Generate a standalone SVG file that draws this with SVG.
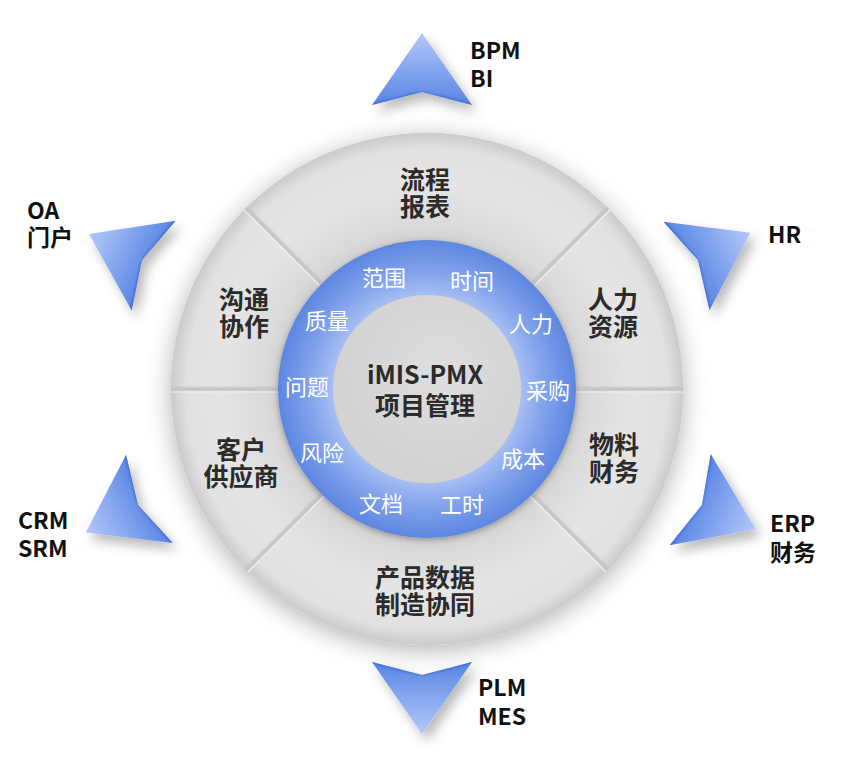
<svg xmlns="http://www.w3.org/2000/svg" width="859" height="769" viewBox="0 0 859 769">
<defs>
<style>
.lbl{font-family:"Noto Sans CJK SC","Noto Sans",sans-serif;font-weight:700;font-size:23px;fill:#111}
.sec{font-family:"Noto Sans CJK SC","Noto Sans",sans-serif;font-weight:700;font-size:25px;fill:#2b2b2b;text-anchor:middle}
.rng{font-family:"Noto Sans CJK SC","Noto Sans",sans-serif;font-weight:400;font-size:22px;fill:#ffffff;text-anchor:middle}
.ctr{font-family:"Noto Sans CJK SC","Noto Sans",sans-serif;font-weight:700;font-size:25px;fill:#2b2b2b;text-anchor:middle}
.sector{fill:url(#gSector)}
.div{stroke:#c2c2c2;stroke-width:3.5;fill:none}
.divh{stroke:#f2f2f2;stroke-width:1.2;fill:none}
.arrow{fill:url(#gArrow)}
.bevel{fill:none;stroke:#2f5bbd;stroke-width:4;stroke-opacity:.55}
</style>
<radialGradient id="gSector" gradientUnits="userSpaceOnUse" cx="427" cy="389" r="256">
<stop offset="0.56" stop-color="#cfcfcf"/>
<stop offset="0.64" stop-color="#dadada"/>
<stop offset="0.8" stop-color="#e5e5e5"/>
<stop offset="0.94" stop-color="#e1e1e1"/>
<stop offset="1" stop-color="#cbcbcb"/>
</radialGradient>
<radialGradient id="gBlue" gradientUnits="userSpaceOnUse" cx="427" cy="389" r="149">
<stop offset="0.62" stop-color="#a9c0f3"/>
<stop offset="0.78" stop-color="#84a4ec"/>
<stop offset="1" stop-color="#5d86e0"/>
</radialGradient>
<radialGradient id="gInner" gradientUnits="userSpaceOnUse" cx="440" cy="370" r="100">
<stop offset="0" stop-color="#dedede"/>
<stop offset="1" stop-color="#d3d3d3"/>
</radialGradient>
<linearGradient id="gArrow" x1="0" y1="0" x2="0" y2="1">
<stop offset="0" stop-color="#b3c8f8"/>
<stop offset="0.55" stop-color="#82a4ee"/>
<stop offset="1" stop-color="#5884e3"/>
</linearGradient>
<filter id="fDisk" x="-20%" y="-20%" width="140%" height="140%">
<feDropShadow dx="0" dy="5" stdDeviation="12" flood-color="#000" flood-opacity="0.3"/>
</filter>
<filter id="fRing" x="-20%" y="-20%" width="140%" height="140%">
<feDropShadow dx="0" dy="2" stdDeviation="3" flood-color="#000" flood-opacity="0.3"/>
</filter>
<filter id="fArrow" x="-40%" y="-40%" width="180%" height="180%">
<feDropShadow dx="5" dy="7" stdDeviation="6" flood-color="#000" flood-opacity="0.28"/>
</filter>
<filter id="fSoft"><feGaussianBlur stdDeviation="1.2"/></filter>
<clipPath id="cArrow"><path d="M0,-59 L50,13 L0,0 L-50,13 Z"/></clipPath>
<clipPath id="cDisk"><circle cx="427" cy="389" r="256"/></clipPath>
<g id="arrowShape">
<path class="arrow" d="M0,-59 L50,13 L0,0 L-50,13 Z"/>
<path class="bevel" clip-path="url(#cArrow)" filter="url(#fSoft)" d="M52,14 L0,1 L-52,14"/>
</g>
</defs>
<rect width="859" height="769" fill="#ffffff"/>

<circle cx="427" cy="389" r="256" fill="#d6d6d6" filter="url(#fDisk)"/>

<g id="sector-top"><path class="sector" d="M608,208 A256,256 0 0 0 246,208 L321.6,283.6 A149,149 0 0 1 532.4,283.6 Z"/>
<text class="sec" x="425" y="189">流程</text><text class="sec" x="425" y="216">报表</text></g>
<g id="sector-upper-left"><path class="sector" d="M246,208 A256,256 0 0 0 171,389 L278,389 A149,149 0 0 1 321.6,283.6 Z"/>
<text class="sec" x="244" y="309">沟通</text><text class="sec" x="244" y="336">协作</text></g>
<g id="sector-lower-left"><path class="sector" d="M171,389 A256,256 0 0 0 246,570 L321.6,494.4 A149,149 0 0 1 278,389 Z"/>
<text class="sec" x="241" y="459">客户</text><text class="sec" x="241" y="486">供应商</text></g>
<g id="sector-bottom"><path class="sector" d="M246,570 A256,256 0 0 0 608,570 L532.4,494.4 A149,149 0 0 1 321.6,494.4 Z"/>
<text class="sec" x="425" y="587">产品数据</text><text class="sec" x="425" y="614">制造协同</text></g>
<g id="sector-lower-right"><path class="sector" d="M608,570 A256,256 0 0 0 683,389 L576,389 A149,149 0 0 1 532.4,494.4 Z"/>
<text class="sec" x="614" y="454">物料</text><text class="sec" x="614" y="481">财务</text></g>
<g id="sector-upper-right"><path class="sector" d="M683,389 A256,256 0 0 0 608,208 L532.4,283.6 A149,149 0 0 1 576,389 Z"/>
<text class="sec" x="613" y="309">人力</text><text class="sec" x="613" y="336">资源</text></g>

<g id="dividers" clip-path="url(#cDisk)">
<path class="div" filter="url(#fSoft)" d="M576,389 L690,389 M532.4,283.6 L613,203 M321.6,283.6 L241,203 M278,389 L164,389 M321.6,494.4 L241,575 M532.4,494.4 L613,575"/>
<path class="divh" d="M576,392 L690,392 M534.5,285.7 L615,205 M319.5,285.7 L239,205 M278,392 L164,392 M323.7,496.5 L243,577 M530.3,496.5 L611,577"/>
</g>

<g id="ring" filter="url(#fRing)">
<path fill="url(#gBlue)" fill-rule="evenodd" d="M576,389 A149,149 0 1 1 278,389 A149,149 0 1 1 576,389 Z M521,389 A94,94 0 1 0 333,389 A94,94 0 1 0 521,389 Z"/>
</g>

<g id="ring-labels">
<text class="rng" x="384" y="286">范围</text>
<text class="rng" x="472" y="289">时间</text>
<text class="rng" x="531" y="332">人力</text>
<text class="rng" x="548" y="399">采购</text>
<text class="rng" x="523" y="467">成本</text>
<text class="rng" x="462" y="513">工时</text>
<text class="rng" x="381" y="512">文档</text>
<text class="rng" x="322" y="461">风险</text>
<text class="rng" x="307" y="395">问题</text>
<text class="rng" x="327" y="329">质量</text>
</g>

<g id="center">
<circle cx="427" cy="389" r="94" fill="url(#gInner)"/>
<text class="ctr" x="425" y="384">iMIS-PMX</text>
<text class="ctr" x="425" y="415">项目管理</text>
</g>

<g id="node-bpm"><g filter="url(#fArrow)"><use href="#arrowShape" transform="translate(422,92)"/></g>
<text class="lbl" x="470" y="59">BPM</text><text class="lbl" x="470" y="87">BI</text></g>
<g id="node-hr"><g filter="url(#fArrow)"><use href="#arrowShape" transform="translate(698,260) rotate(62.5)"/></g>
<text class="lbl" x="768" y="243">HR</text></g>
<g id="node-erp"><g filter="url(#fArrow)"><use href="#arrowShape" transform="translate(702,505) rotate(114.3)"/></g>
<text class="lbl" x="770" y="532">ERP</text><text class="lbl" x="770" y="561">财务</text></g>
<g id="node-plm"><g filter="url(#fArrow)"><use href="#arrowShape" transform="translate(422,675) rotate(180)"/></g>
<text class="lbl" x="478" y="696">PLM</text><text class="lbl" x="478" y="725">MES</text></g>
<g id="node-crm"><g filter="url(#fArrow)"><use href="#arrowShape" transform="translate(138,505) rotate(-117.9)"/></g>
<text class="lbl" x="18" y="529">CRM</text><text class="lbl" x="18" y="557">SRM</text></g>
<g id="node-oa"><g filter="url(#fArrow)"><use href="#arrowShape" transform="translate(142,260) rotate(-63.9)"/></g>
<text class="lbl" x="27" y="219">OA</text><text class="lbl" x="27" y="246">门户</text></g>
</svg>
